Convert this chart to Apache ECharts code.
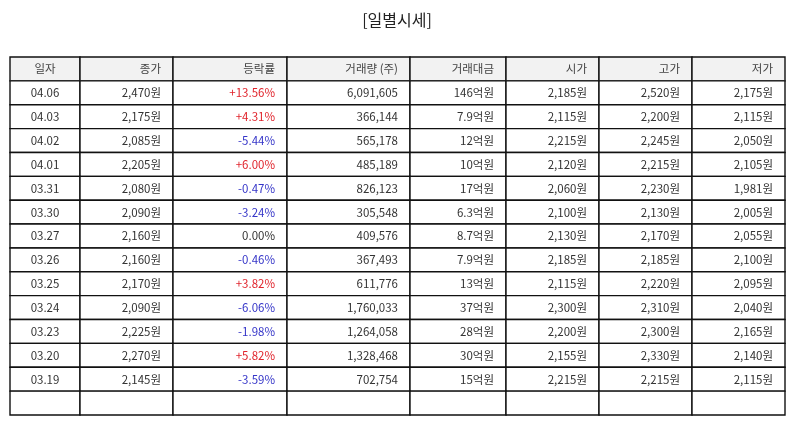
<!DOCTYPE html>
<html>
<head>
<meta charset="utf-8">
<script src="https://cdn.jsdelivr.net/npm/echarts@6/dist/echarts.min.js"></script>
<style>
    html,body{margin:0;padding:0;background:#fff;}
    #chart{width:794px;height:425px;}
</style>
</head>
<body>
<div id="chart"></div>
<script>
const headers = ['일자','종가','등락률','거래량 (주)','거래대금','시가','고가','저가']
const dates = ['04.06','04.03','04.02','04.01','03.31','03.30','03.27','03.26','03.25','03.24','03.23','03.20','03.19']
const closes = ['2,470원','2,175원','2,085원','2,205원','2,080원','2,090원','2,160원','2,160원','2,170원','2,090원','2,225원','2,270원','2,145원']
const changes = ['+13.56%','+4.31%','-5.44%','+6.00%','-0.47%','-3.24%','0.00%','-0.46%','+3.82%','-6.06%','-1.98%','+5.82%','-3.59%']
const volumes = ['6,091,605','366,144','565,178','485,189','826,123','305,548','409,576','367,493','611,776','1,760,033','1,264,058','1,328,468','702,754']
const amounts = ['146억원','7.9억원','12억원','10억원','17억원','6.3억원','8.7억원','7.9억원','13억원','37억원','28억원','30억원','15억원']
const opens = ['2,185원','2,115원','2,215원','2,120원','2,060원','2,100원','2,130원','2,185원','2,115원','2,300원','2,200원','2,155원','2,215원']
const highs = ['2,520원','2,200원','2,245원','2,215원','2,230원','2,130원','2,170원','2,185원','2,220원','2,310원','2,300원','2,330원','2,215원']
const lows = ['2,175원','2,115원','2,050원','2,105원','1,981원','2,005원','2,055원','2,100원','2,095원','2,040원','2,165원','2,140원','2,115원']

// 열 경계 (레이아웃)
const colEdges = [0, 70, 163, 277, 400, 496, 589, 682, 775]

const columns = [dates, closes, changes, volumes, amounts, opens, highs, lows]
const rowCount = dates.length + 2   // 헤더 + 데이터 + 빈 줄

const cells = []
for (let r = 0; r < rowCount; r++) {
    for (let c = 0; c < headers.length; c++) {
        let text = ''
        if (r === 0) text = headers[c]
        else if (r <= dates.length) text = columns[c][r - 1]
        cells.push([c, r, text])
    }
}

const textColor = t => t.startsWith('+') ? '#e0242c' : (t.startsWith('-') ? '#3535c8' : '#333')

const chart = echarts.init(document.getElementById('chart'))
chart.setOption({
    animation: false,
    title: {
        text: '[일별시세]',
        left: 'center',
        top: 7,
        textStyle: { fontFamily: 'Noto Sans CJK KR', fontSize: 16, fontWeight: 'normal', color: '#222' }
    },
    grid: { left: 10, right: 9, top: 57, bottom: 10 },
    xAxis: { type: 'value', min: 0, max: 775, show: false },
    yAxis: { type: 'value', min: 0, max: rowCount, inverse: true, show: false },
    series: [{
        type: 'custom',
        data: cells,
        encode: { x: 0, y: 1 },
        renderItem: (params, api) => {
            const c = api.value(0)
            const r = api.value(1)
            const text = cells[params.dataIndex][2]
            const p0 = api.coord([colEdges[c], r])
            const p1 = api.coord([colEdges[c + 1], r + 1])
            const w = p1[0] - p0[0]
            const h = p1[1] - p0[1]
            const center = c === 0
            return {
                type: 'group',
                children: [{
                    type: 'rect',
                    shape: { x: p0[0], y: p0[1], width: w, height: h },
                    style: { fill: r === 0 ? '#f2f2f2' : '#fff', stroke: '#111', lineWidth: 1.4 }
                }, {
                    type: 'text',
                    style: {
                        text: text,
                        x: center ? p0[0] + w / 2 : p1[0] - 12,
                        y: p0[1] + h / 2,
                        align: center ? 'center' : 'right',
                        verticalAlign: 'middle',
                        fontFamily: 'Noto Sans CJK KR',
                        fontSize: 11.5,
                        fill: r === 0 ? '#444' : (c === 2 ? textColor(text) : '#333')
                    }
                }]
            }
        }
    }]
})
</script>
</body>
</html>
